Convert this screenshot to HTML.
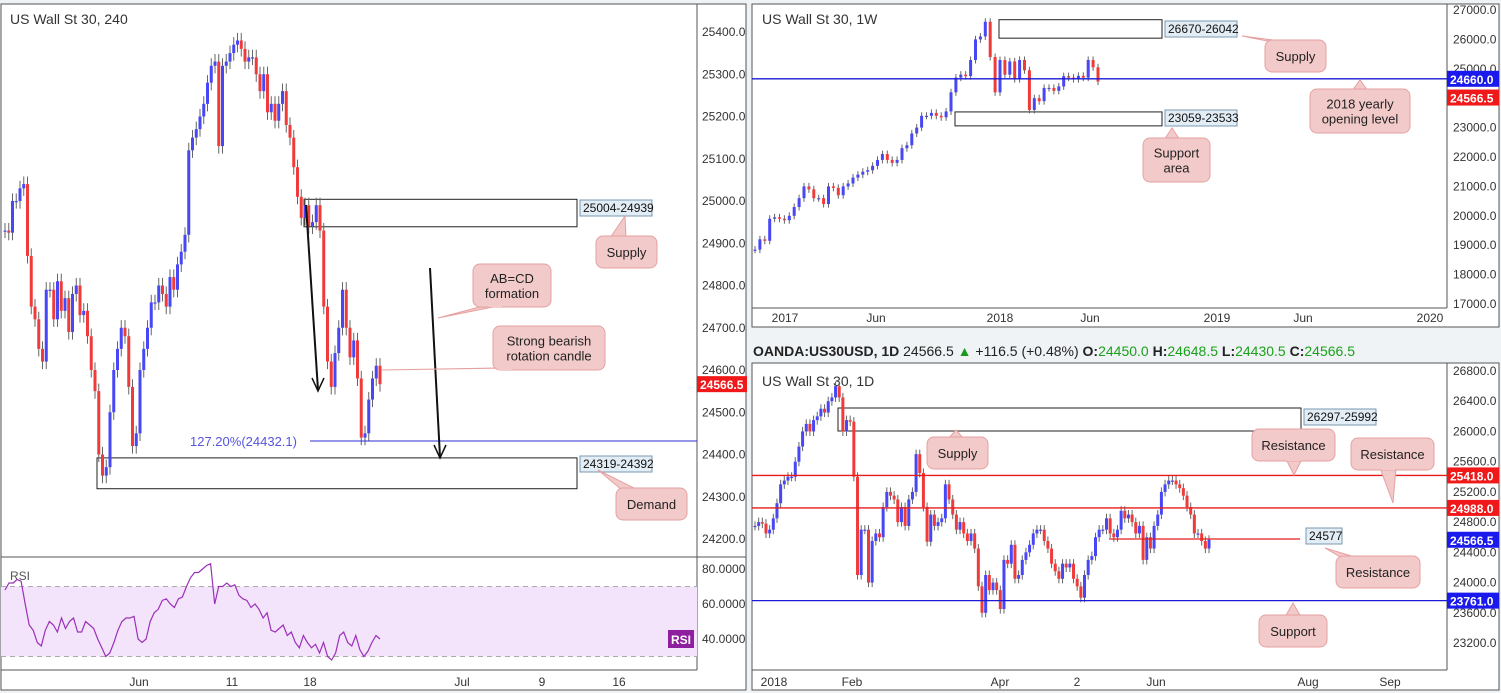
<!DOCTYPE html>
<html><head><meta charset="utf-8"><style>
html,body{margin:0;padding:0;background:#f0f3f6;}
svg{display:block;font-family:"Liberation Sans",sans-serif;}
.ax{font-size:12px;fill:#333;}
.bub{fill:#f3caca;stroke:#e6a0a0;stroke-width:1}
.bt{font-size:13px;fill:#222;}
</style></head><body>
<svg id="s" width="1501" height="693" viewBox="0 0 1501 693" xmlns="http://www.w3.org/2000/svg">
<!-- panels -->
<rect x="1" y="4" width="745" height="686" fill="#fff" stroke="#555"/>
<rect x="752" y="4" width="747" height="323" fill="#fff" stroke="#555"/>
<rect x="752" y="363" width="747" height="327" fill="#fff" stroke="#555"/>
<g id="g"></g>
</svg>
<script>
// ===== H4 data =====
const h4Closes=[24930,24925,25000,25000,25030,25040,24870,24750,24720,24650,24620,24790,24790,24720,24810,24740,24770,24690,24780,24800,24730,24740,24680,24600,24550,24400,24350,24370,24500,24600,24650,24700,24680,24560,24420,24450,24600,24650,24700,24760,24760,24800,24780,24750,24820,24790,24850,24880,24920,25120,25150,25170,25200,25230,25280,25320,25330,25130,25320,25330,25350,25370,25380,25360,25330,25340,25340,25300,25260,25300,25210,25230,25190,25230,25260,25180,25150,25080,25010,24960,24990,24940,24950,24990,24930,24750,24620,24560,24640,24700,24790,24700,24630,24670,24580,24440,24450,24530,24580,24610,24566.5];
const h4Ticks=[25400,25300,25200,25100,25000,24900,24800,24700,24600,24500,24400,24300,24200];
const h4Dates=["Jun","11","18","Jul","9","16"];
const h4DateX=[139,232,310,462,542,619];
const rsiValues=[68,72,72,74,73,60,48,45,38,36,45,50,48,44,52,46,50,52,44,44,50,48,46,40,35,30,32,38,45,50,52,52,53,40,38,40,50,55,57,62,63,60,58,63,64,70,75,78,78,80,82,83,60,70,70,72,70,71,65,63,62,58,60,57,52,55,45,44,46,48,42,44,38,35,42,38,35,37,32,38,30,28,32,42,44,38,36,42,34,30,33,38,42,40];
const rsiTicks=[80,60,40];
// ===== Weekly data =====
const wCloses=[18850,19200,19150,19900,19950,19900,19850,20000,20300,20600,21000,20900,20600,20600,20400,21000,20950,20700,21000,21100,21300,21400,21500,21550,21700,21900,22100,21900,21800,21900,22300,22400,22800,23000,23400,23400,23500,23400,23350,23550,24200,24700,24800,24750,25300,26000,26100,26600,25400,24200,25300,24800,25250,24650,25300,24950,23600,24000,23900,24350,24350,24250,24400,24750,24700,24650,24760,24700,25300,25050,24566.5];
const wTicks=[27000,26000,25000,23000,22000,21000,20000,19000,18000,17000];
const wDates=["2017","Jun","2018","Jun","2019","Jun","2020"];
const wDateX=[785,876,1000,1090,1217,1303,1430];
// ===== Daily data =====
const dCloses=[24750,24800,24780,24650,24700,24850,25050,25300,25350,25400,25400,25600,25800,26000,26100,26000,26150,26200,26300,26250,26400,26450,26600,26450,26000,26150,26130,25400,24100,24700,24700,24000,24550,24650,24600,25000,25200,25150,25100,24800,25000,24750,25100,25200,25700,25450,25000,24540,24900,24750,24800,24850,25300,25100,24900,24700,24800,24650,24550,24650,24450,23950,23600,24100,23900,24000,23900,23650,24300,24250,24500,24050,24100,24300,24400,24500,24650,24700,24700,24550,24450,24250,24150,24050,24250,24200,24250,24050,23950,23800,24100,24300,24350,24600,24700,24700,24850,24650,24600,24700,24950,24850,24900,24800,24650,24750,24300,24600,24450,24750,24900,25200,25300,25350,25350,25300,25250,25150,25000,24900,24650,24650,24550,24450,24566.5];
const dTicks=[26800,26400,26000,25600,25200,24800,24400,24000,23600,23200];
const dDates=["2018","Feb","Apr","2","Jun","Aug","Sep"];
const dDateX=[774,852,1000,1077,1156,1308,1390];

const NS="http://www.w3.org/2000/svg";
const G=document.getElementById('g');
function el(t,a,p){const e=document.createElementNS(NS,t);for(const k in a)e.setAttribute(k,a[k]);(p||G).appendChild(e);return e;}
function txt(x,y,s,a,p){const e=el('text',Object.assign({x:x,y:y},a||{}),p);e.textContent=s;return e;}

// axis functions
const yH4=p=>32+(25400-p)*0.4225;
const yRsi=v=>569+(80-v)*1.75;
const yW=p=>10+(27000-p)*0.0294;
const yD=p=>371+(26800-p)*0.07556;

function candles(closes,x0,x1,yf,w,name,wick){
  const n=closes.length, step=(x1-x0)/(n-1);
  const grp=el('g',{});
  
  
  for(let i=0;i<n;i++){
    const o=i?closes[i-1]:closes[0], c=closes[i], x=x0+i*step;
    const up=c>=o, col=up?'#4747f5':'#f03b3b';
    const hi=Math.max(o,c)+wick, lo=Math.min(o,c)-wick;
    const l=el('line',{x1:x,x2:x,y1:yf(hi),y2:yf(lo),stroke:'#666','stroke-width':1},grp);
    
    
    const t=Math.min(yf(o),yf(c)), h=Math.max(1.2,Math.abs(yf(o)-yf(c)));
    const r=el('rect',{x:x-w/2,y:t,width:w,height:h,fill:col},grp);
    
    
  }
}
function bubble(x,y,w,h,px,py,bx,lines,name){
  const grp=el('g',{});
  
  
  el('polygon',{points:`${bx-8},${py<y?y+2:y+h-2} ${bx+8},${py<y?y+2:y+h-2} ${px},${py}`,class:'bub'},grp);
  el('rect',{x:x,y:y,width:w,height:h,rx:7,class:'bub'},grp);
  el('rect',{x:bx-7,y:py<y?y+1:y+h-3,width:14,height:3,fill:'#f3caca'},grp);
  lines.forEach((s,i)=>txt(x+w/2,y+h/2+5+(i-(lines.length-1)/2)*15,s,{'text-anchor':'middle',class:'bt'},grp));
}
function tag(x,y,w,s,bg,fg,name){
  const r=el('rect',{x:x,y:y-8,width:w,height:16,fill:bg});
  
  
  txt(x+3,y+5,s,{'font-size':'12px','font-weight':'bold',fill:fg});
}
function zoneLabel(x,y,s,name){
  const r=el('rect',{x:x,y:y,width:72,height:16,fill:'#e3edf5',stroke:'#7a98b0'});
  
  
  txt(x+3,y+12,s,{'font-size':'12px',fill:'#111'});
}

// ===== H4 panel =====
el('line',{x1:697,x2:697,y1:4,y2:670,stroke:'#555'});
el('line',{x1:1,x2:746,y1:557,y2:557,stroke:'#555'});
el('line',{x1:1,x2:697,y1:670,y2:670,stroke:'#555'});
h4Ticks.forEach(p=>txt(702,yH4(p)+4,p.toFixed(1),{class:'ax'}));
h4Dates.forEach((d,i)=>txt(h4DateX[i],686,d,{class:'ax','text-anchor':'middle'}));
txt(10,24,'US Wall St 30, 240',{'font-size':'14px',fill:'#333'});
// zones
let z=el('rect',{x:304,y:yH4(25004),width:273,height:yH4(24939)-yH4(25004),fill:'none',stroke:'#222'});

z=el('rect',{x:97,y:yH4(24392),width:480,height:yH4(24319)-yH4(24392),fill:'none',stroke:'#222'});

candles(h4Closes,5,380,yH4,3,'h4-candles',18);
el('line',{x1:310,x2:697,y1:yH4(24432.1),y2:yH4(24432.1),stroke:'#2b2bd6'});
txt(190,yH4(24432.1)+5,'127.20%(24432.1)',{'font-size':'13px',fill:'#5555dd'});
zoneLabel(580,200,'25004-24939','h4-supply-label');
zoneLabel(580,456,'24319-24392','h4-demand-label');
// arrows
el('line',{x1:306,y1:205,x2:318,y2:390,stroke:'#111','stroke-width':2});
el('polyline',{points:'312,378 318,391 324,378',fill:'none',stroke:'#111','stroke-width':1.5});
el('line',{x1:430,y1:268,x2:440,y2:457,stroke:'#111','stroke-width':2});
el('polyline',{points:'434,445 440,458 446,445',fill:'none',stroke:'#111','stroke-width':1.5});
tag(697,yH4(24566.5),50,'24566.5','#f01818','#fff','h4-price-tag');
bubble(596,236,61,32,625,216,618,['Supply'],'h4-supply-callout');
bubble(473,264,78,43,438,318,495,['AB=CD','formation'],'abcd-callout');
bubble(493,326,112,44,381,370,505,['Strong bearish','rotation candle'],'bearish-candle-callout');
bubble(616,488,71,32,598,470,630,['Demand'],'h4-demand-callout');
// RSI
el('rect',{x:1,y:yRsi(70),width:696,height:yRsi(30)-yRsi(70),fill:'#f3e4fb'});
[70,30].forEach(v=>el('line',{x1:1,x2:697,y1:yRsi(v),y2:yRsi(v),stroke:'#aaa','stroke-dasharray':'5,4'}));
rsiTicks.forEach(v=>txt(702,yRsi(v)+4,v.toFixed(4),{class:'ax'}));
txt(10,580,'RSI',{'font-size':'12px',fill:'#555'});
{const n=rsiValues.length;let d='';rsiValues.forEach((v,i)=>{d+=(i?'L':'M')+(5+i*375/(n-1)).toFixed(1)+','+yRsi(v).toFixed(1);});
const p=el('path',{d:d,fill:'none',stroke:'#9b30b8','stroke-width':1.2});}
const rt=el('rect',{x:668,y:630,width:26,height:18,fill:'#8e1f9e'});
txt(671,644,'RSI',{'font-size':'12px','font-weight':'bold',fill:'#fff'});

// ===== Weekly panel =====
el('line',{x1:1447,x2:1447,y1:4,y2:308,stroke:'#555'});
el('line',{x1:752,x2:1447,y1:308,y2:308,stroke:'#555'});
wTicks.forEach(p=>txt(1453,yW(p)+4,p.toFixed(1),{class:'ax'}));
wDates.forEach((d,i)=>txt(wDateX[i],322,d,{class:'ax','text-anchor':'middle'}));
txt(762,24,'US Wall St 30, 1W',{'font-size':'14px',fill:'#333'});
z=el('rect',{x:999,y:yW(26670),width:163,height:yW(26042)-yW(26670),fill:'none',stroke:'#222'});
z=el('rect',{x:955,y:yW(23533),width:207,height:yW(23059)-yW(23533),fill:'none',stroke:'#222'});
candles(wCloses,755,1098,yW,3,'weekly-candles',120);
el('line',{x1:752,x2:1447,y1:yW(24660),y2:yW(24660),stroke:'#1a1ad6','stroke-width':1.3});
zoneLabel(1165,21,'26670-26042','weekly-supply-label');
zoneLabel(1165,110,'23059-23533','weekly-support-label');
tag(1447,yW(24660),52,'24660.0','#1a1aee','#fff','weekly-level-tag');
tag(1447,yW(24566.5)+16,52,'24566.5','#f01818','#fff','weekly-price-tag');
bubble(1265,40,61,32,1242,36,1280,['Supply'],'weekly-supply-callout');
bubble(1310,89,100,44,1360,80,1360,['2018 yearly','opening level'],'yearly-open-callout');
bubble(1143,138,67,44,1172,128,1172,['Support','area'],'support-area-callout');

// ===== Daily header =====
const hd=el('text',{x:753,y:356,'font-size':'14px',fill:'#222'});

hd.innerHTML='<tspan font-weight="bold">OANDA:US30USD, 1D</tspan> 24566.5 <tspan fill="#1a9a1a">▲</tspan> +116.5 (+0.48%) <tspan font-weight="bold">O:</tspan><tspan fill="#1aa01a">24450.0</tspan> <tspan font-weight="bold">H:</tspan><tspan fill="#1aa01a">24648.5</tspan> <tspan font-weight="bold">L:</tspan><tspan fill="#1aa01a">24430.5</tspan> <tspan font-weight="bold">C:</tspan><tspan fill="#1aa01a">24566.5</tspan>';

// ===== Daily panel =====
el('line',{x1:1447,x2:1447,y1:363,y2:670,stroke:'#555'});
el('line',{x1:752,x2:1447,y1:670,y2:670,stroke:'#555'});
dTicks.forEach(p=>txt(1453,yD(p)+4,p.toFixed(1),{class:'ax'}));
dDates.forEach((d,i)=>txt(dDateX[i],686,d,{class:'ax','text-anchor':'middle'}));
txt(762,386,'US Wall St 30, 1D',{'font-size':'14px',fill:'#333'});
z=el('rect',{x:838,y:408,width:463,height:23,fill:'none',stroke:'#222'});
candles(dCloses,755,1209,yD,3,'daily-candles',60);
el('line',{x1:752,x2:1447,y1:yD(25418),y2:yD(25418),stroke:'#e81c1c','stroke-width':1.3});
el('line',{x1:752,x2:1447,y1:yD(24988),y2:yD(24988),stroke:'#e81c1c','stroke-width':1.3});
el('line',{x1:752,x2:1447,y1:yD(23761),y2:yD(23761),stroke:'#1a1ad6','stroke-width':1.3});
el('line',{x1:1109,x2:1300,y1:yD(24577),y2:yD(24577),stroke:'#e81c1c','stroke-width':1.3});
zoneLabel(1304,409,'26297-25992','daily-supply-label');
const l2=el('rect',{x:1306,y:528,width:36,height:16,fill:'#e3edf5',stroke:'#7a98b0'});
txt(1309,540,'24577',{'font-size':'12px',fill:'#111'});
tag(1447,yD(25418),52,'25418.0','#f01818','#fff','resistance-25418-tag');
tag(1447,yD(24988),52,'24988.0','#f01818','#fff','resistance-24988-tag');
tag(1447,yD(24566.5),52,'24566.5','#1a1aee','#fff','daily-price-tag');
tag(1447,yD(23761),52,'23761.0','#1a1aee','#fff','support-23761-tag');
bubble(927,437,61,32,956,430,956,['Supply'],'daily-supply-callout');
bubble(1252,429,83,32,1294,475,1294,['Resistance'],'resistance-callout-1');
bubble(1351,438,83,32,1393,503,1388,['Resistance'],'resistance-callout-2');
bubble(1336,556,84,32,1325,548,1350,['Resistance'],'resistance-callout-3');
bubble(1259,615,68,32,1293,603,1293,['Support'],'support-callout');
</script>
</body></html>
